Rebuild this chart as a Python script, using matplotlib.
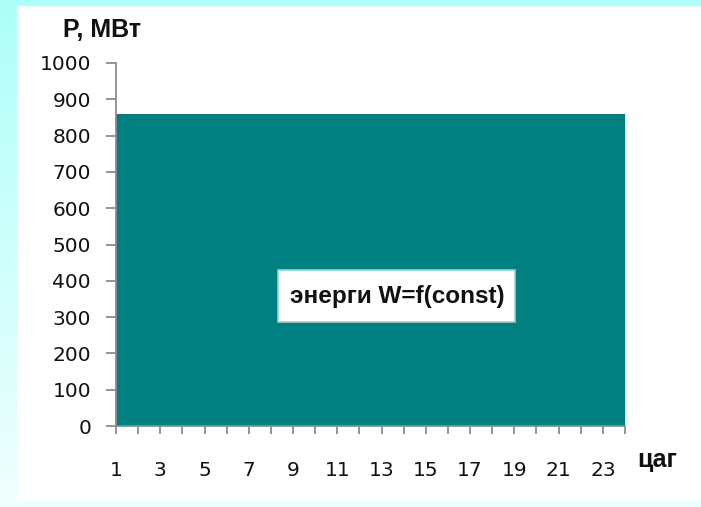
import numpy as np
import matplotlib.pyplot as plt
from matplotlib.patches import Rectangle

# hourly load, MW (flat schedule)
hours = [1, 2, 3, 4, 5, 6, 7, 8, 9, 10, 11, 12,
         13, 14, 15, 16, 17, 18, 19, 20, 21, 22, 23, 24]
power = [860, 860, 860, 860, 860, 860, 860, 860, 860, 860, 860, 860,
         860, 860, 860, 860, 860, 860, 860, 860, 860, 860, 860, 860]
y_ticks = [0, 100, 200, 300, 400, 500, 600, 700, 800, 900, 1000]
x_labels = [str(h) if h % 2 == 1 else '' for h in hours]

label_text = 'энерги W=f(const)'
y_title = 'P, МВт'
x_title = 'цаг'

W, H = 701, 507
fig = plt.figure(figsize=(W / 100, H / 100), dpi=100)

# cyan slide background with white panel on top
bg = fig.add_axes([0, 0, 1, 1])
grad = np.linspace(0, 1, 256).reshape(-1, 1)
top = np.array([174, 255, 249]) / 255
bot = np.array([240, 255, 254]) / 255
img = top + (bot - top) * grad[..., None]
bg.imshow(img, aspect='auto', extent=[0, W, H, 0])
bg.add_patch(Rectangle((17, 6), W - 17, 494, facecolor='white', edgecolor='none'))
bg.set_xlim(0, W)
bg.set_ylim(H, 0)
bg.axis('off')

ax = fig.add_axes([116 / W, 1 - 426 / H, (625 - 116) / W, (426 - 63) / H])
ax.set_facecolor('none')
ax.fill_between(hours, 0, power, color='#008080', linewidth=0)

ax.set_xlim(hours[0], hours[-1])
ax.set_ylim(0, 1000)
ax.set_yticks(y_ticks)
ax.set_xticks(hours)
ax.set_xticklabels(x_labels)

for s in ['top', 'right']:
    ax.spines[s].set_visible(False)
for s in ['left', 'bottom']:
    ax.spines[s].set_color('#8c8c8c')
    ax.spines[s].set_linewidth(1.3)
    ax.spines[s].set_zorder(3)

ax.tick_params(axis='y', direction='out', length=7, width=1.3, color='#8c8c8c',
               pad=11, labelsize=14.5, labelcolor='#111111')
ax.tick_params(axis='x', direction='out', length=6, width=1.3, color='#8c8c8c',
               pad=19, labelsize=14.5, labelcolor='#111111')
for lb in ax.get_xticklabels() + ax.get_yticklabels():
    lb.set_family('DejaVu Sans')

bold = dict(family='Liberation Sans', fontweight='bold', color='#111111')
fig.text(102 / W, 1 - 30 / H, y_title, fontsize=18, ha='center', va='center', **bold)
fig.text(657 / W, 1 - 460 / H, x_title, fontsize=18, ha='center', va='center', **bold)

# label box over the area
ax.add_patch(Rectangle((278 / W, 1 - 322 / H), 237 / W, 52 / H,
                       transform=fig.transFigure, facecolor='white',
                       edgecolor='#9fcfcf', linewidth=1.2, zorder=4))
fig.text(397 / W, 1 - 296 / H, label_text, fontsize=17.5, ha='center', va='center',
         zorder=5, **bold)

fig.savefig('out.png', dpi=100)
